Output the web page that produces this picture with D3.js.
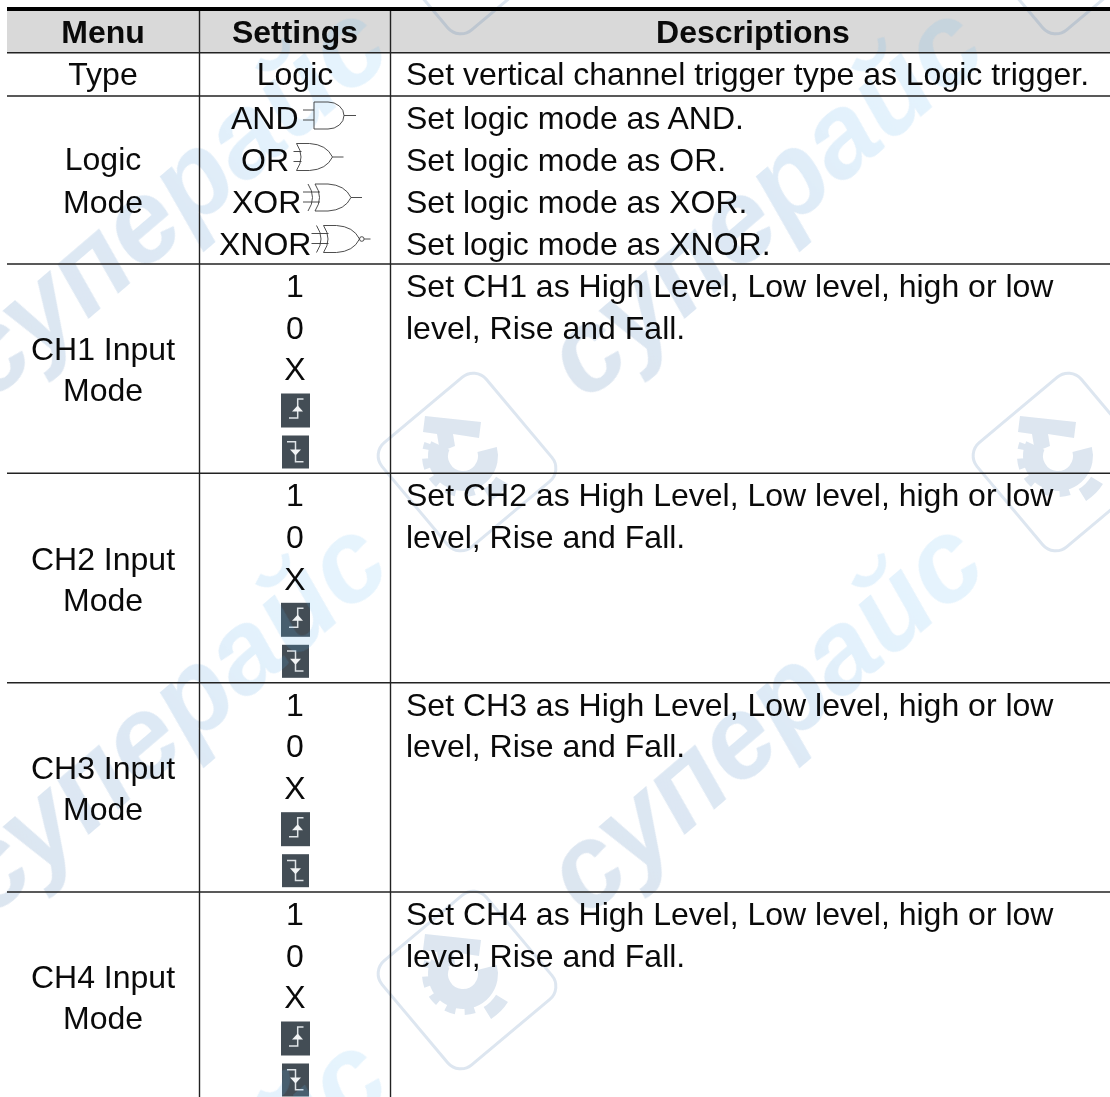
<!DOCTYPE html>
<html><head><meta charset="utf-8">
<script src="https://cdn.jsdelivr.net/npm/d3@7/dist/d3.min.js"></script>
<style>html,body{margin:0;padding:0;background:#fff;overflow:hidden}svg{display:block}
text{font-family:"Liberation Sans",Arial,sans-serif;font-size:32px;fill:#0a0a0a}</style></head>
<body><div id="c"></div>
<script>
// ---- table content ----
const headers = ["Menu", "Settings", "Descriptions"];
const menuLabels = [["Type"], ["Logic", "Mode"], ["CH1 Input", "Mode"], ["CH2 Input", "Mode"], ["CH3 Input", "Mode"], ["CH4 Input", "Mode"]];
const logicModes = ["AND", "OR", "XOR", "XNOR"];
const inputModes = ["1", "0", "X"];
const edgeIcons = ["rise", "fall"];
const channels = ["CH1", "CH2", "CH3", "CH4"];
const typeDesc = "Set vertical channel trigger type as Logic trigger.";
const logicDesc = logicModes.map(m => `Set logic mode as ${m}.`);
const chDesc = channels.map(c => [`Set ${c} as High Level, Low level, high or low`, "level, Rise and Fall."]);
const watermarkText = "суперайс";

// ---- layout ----
const W = 1110, H = 1097;
const left = 7, col1 = 199.5, col2 = 390.5;
const rowLines = [52.7, 96, 264, 473.3, 682.7, 892];
const pitch = 41.7;
const svg = d3.select("#c").append("svg").attr("width", W).attr("height", H);
const defs = svg.append("defs");
const grad = defs.append("linearGradient").attr("id", "wm").attr("gradientUnits", "objectBoundingBox")
  .attr("x1", 0).attr("x2", 1).attr("y1", 0).attr("y2", 0);
grad.append("stop").attr("offset", 0).attr("stop-color", "#3268a5");
grad.append("stop").attr("offset", .5).attr("stop-color", "#377ec4");
grad.append("stop").attr("offset", .72).attr("stop-color", "#5aaeec");
grad.append("stop").attr("offset", 1).attr("stop-color", "#6cbef3");

// header background
svg.append("rect").attr("x", left).attr("y", 10).attr("width", W - left).attr("height", rowLines[0] - 10).attr("fill", "#d9d9d9");

// edge icons (below the watermark, which veils them)
const iconLayer = svg.append("g");
function icon(kind, rowTop) {
  const g = iconLayer.append("g").attr("transform", `translate(0,${rowTop})`);
  if (kind === "rise") {
    g.append("rect").attr("x", 281).attr("y", 129.5).attr("width", 29).attr("height", 34).attr("fill", "#434d55");
    g.append("path").attr("d", "M289,154H297.7V135H303.5").attr("fill", "none").attr("stroke", "#dfe4e7").attr("stroke-width", 1.5);
    g.append("path").attr("d", "M292,147.5L297.7,141.5L303,147.5Z").attr("fill", "#f2f4f5");
  } else {
    g.append("rect").attr("x", 282).attr("y", 171.5).attr("width", 27).attr("height", 33).attr("fill", "#434d55");
    g.append("path").attr("d", "M287,177.7H295.5V197.7H303.5").attr("fill", "none").attr("stroke", "#dfe4e7").attr("stroke-width", 1.5);
    g.append("path").attr("d", "M290,185.5L295.5,191.5L301,185.5Z").attr("fill", "#f2f4f5");
  }
}
rowLines.slice(2).forEach(t => edgeIcons.forEach(k => icon(k, t)));

// watermark
const wm = svg.append("g").attr("opacity", .17);
const wmAnchors = [[-10, 403], [586, 403], [-10, 919], [586, 919], [-10, 1435]];
wm.selectAll("text.wm").data(wmAnchors).join("text").attr("class", "wm")
  .attr("transform", d => `translate(${d[0]},${d[1]}) rotate(-40.5)`)
  .style("font-size", "116px").style("font-weight", "bold").style("font-style", "italic")
  .style("fill", "url(#wm)").text(watermarkText);
const logos = [[467, -55], [1062, -55], [467, 462], [1062, 462], [467, 980]];
const logoG = wm.selectAll("g.logo").data(logos).join("g").attr("class", "logo")
  .attr("transform", d => `translate(${d[0]},${d[1]})`);
const logoCol = "#376ca7";
const rad = Math.PI / 180;
const arcPath = (r, a0, a1) => { const p = d3.path(); p.arc(-4, -6, r, a0 * rad, a1 * rad); return p.toString(); };
logoG.append("rect").attr("x", -68).attr("y", -68).attr("width", 136).attr("height", 136).attr("rx", 17)
  .attr("transform", "rotate(50)").attr("fill", "none").attr("stroke", logoCol).attr("stroke-width", 3);
logoG.append("path").attr("d", "M-42,-46L14,-40L12,-24L-14,-28L-12,-16L-27,-10L-30,-28L-44,-30Z").attr("fill", logoCol);
logoG.append("path").attr("fill", "none").attr("stroke", logoCol).attr("stroke-width", 20).attr("d", arcPath(25, -15, 205));
logoG.append("path").attr("fill", "none").attr("stroke", logoCol).attr("stroke-width", 8)
  .attr("stroke-dasharray", "10 9").attr("d", arcPath(37, 72, 200));
logoG.append("path").attr("fill", "none").attr("stroke", logoCol).attr("stroke-width", 14).attr("d", arcPath(46, 32, 58));

// grid lines
const lines = svg.append("g");
lines.selectAll("line.h").data(rowLines).join("line").attr("class", "h")
  .attr("x1", left).attr("x2", W).attr("y1", d => d).attr("y2", d => d)
  .attr("stroke", "#222").attr("stroke-width", 1.5);
lines.append("rect").attr("x", left).attr("y", 7).attr("width", W - left).attr("height", 4).attr("fill", "#000");
lines.selectAll("line.v").data([col1, col2]).join("line").attr("class", "v")
  .attr("x1", d => d).attr("x2", d => d).attr("y1", 11).attr("y2", H)
  .attr("stroke", "#222").attr("stroke-width", 1.4);

// text
const T = svg.append("g");
const cx = [103, 295, 753];
T.selectAll("text.hd").data(headers).join("text").attr("class", "hd")
  .attr("x", (d, i) => cx[i]).attr("y", 42.5).attr("text-anchor", "middle").style("font-weight", "bold").text(d => d);

const menuBase = [[85], [170, 212.5], [360, 401], [569.5, 610.5], [779, 820], [988, 1029]];
menuLabels.forEach((ls, r) => ls.forEach((s, i) => {
  T.append("text").attr("x", cx[0]).attr("y", menuBase[r][i]).attr("text-anchor", "middle").text(s);
}));
T.append("text").attr("x", cx[1]).attr("y", 85).attr("text-anchor", "middle").text("Logic");
T.append("text").attr("x", 406).attr("y", 85).text(typeDesc);

const logicBase = [129, 171, 212.5, 254.5];
const modeX = [231, 241, 232, 219];
T.selectAll("text.mode").data(logicModes).join("text").attr("class", "mode")
  .attr("x", (d, i) => modeX[i]).attr("y", (d, i) => logicBase[i]).text(d => d);
T.selectAll("text.ld").data(logicDesc).join("text").attr("class", "ld")
  .attr("x", 406).attr("y", (d, i) => logicBase[i]).text(d => d);

rowLines.slice(2).forEach((top, c) => {
  inputModes.forEach((m, i) => T.append("text").attr("x", cx[1]).attr("y", top + 33 + i * pitch).attr("text-anchor", "middle").text(m));
  chDesc[c].forEach((s, i) => T.append("text").attr("x", 406).attr("y", top + 33 + i * pitch).text(s));
});

// logic gates
const G = svg.append("g").attr("fill", "none").attr("stroke", "#3a3a3a").attr("stroke-width", .9);
const gateX = [303, 293.5, 303, 311.5];
const gateY = [102, 143.5, 184, 225.5];
logicModes.forEach((m, i) => {
  const g = G.append("g").attr("transform", `translate(${gateX[i]},${gateY[i]})`);
  const bodyH = 27, mid = 13.5;
  if (m === "AND") {
    g.append("path").attr("d", `M11,0V${bodyH}H25A16,13.5 0 0 0 25,0Z`);
    g.append("path").attr("d", `M0,8H11M0,18H11M41,${mid}H53`);
  } else {
    const x0 = m === "OR" ? 3 : 12;
    const tip = x0 + 36;
    if (m !== "OR") g.append("path").attr("d", `M${x0 - 7},0Q${x0 + 2},${mid} ${x0 - 7},${bodyH}`);
    g.append("path").attr("d", `M${x0},0H${x0 + 13}Q${tip - 6},1 ${tip},${mid}Q${tip - 6},${bodyH - 1} ${x0 + 13},${bodyH}H${x0}Q${x0 + 9},${mid} ${x0},0Z`);
    g.append("path").attr("d", `M0,8H${x0 + 5}M0,18H${x0 + 5}`);
    if (m === "XNOR") {
      g.append("circle").attr("cx", tip + 2.3).attr("cy", mid).attr("r", 2.3);
      g.append("path").attr("d", `M${tip + 4.6},${mid}H${tip + 11}`);
    } else {
      g.append("path").attr("d", `M${tip},${mid}H${tip + 11}`);
    }
  }
});
</script></body></html>
